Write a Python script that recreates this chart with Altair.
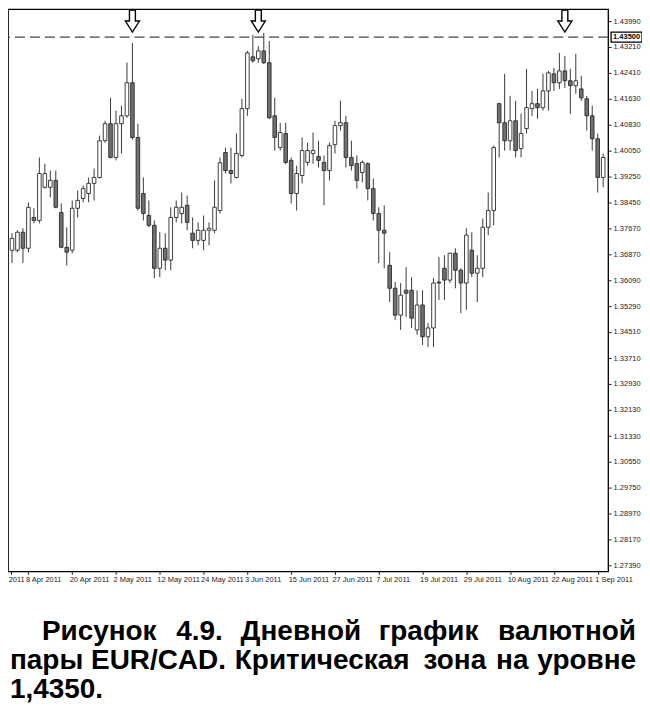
import altair as alt
import pandas as pd

# ---------------- data ----------------
opens = [1.3700, 1.3700, 1.3755, 1.3706, 1.3800, 1.3791, 1.3892, 1.3892, 1.3913, 1.3815,
         1.3709, 1.3700, 1.3828, 1.3858, 1.3873, 1.3904, 1.3922, 1.4034, 1.4086, 1.3983,
         1.4086, 1.4110, 1.4211, 1.4044, 1.3873, 1.3806, 1.3776, 1.3645, 1.3706, 1.3670,
         1.3800, 1.3812, 1.3837, 1.3752, 1.3730, 1.3730, 1.3761, 1.3761, 1.3821, 1.3998,
         1.3943, 1.3922, 1.3989, 1.4132, 1.4290, 1.4284, 1.4308, 1.4272, 1.4110, 1.4013,
         1.4056, 1.3974, 1.3873, 1.3928, 1.3968, 1.3995, 1.3986, 1.3968, 1.3943, 1.4022,
         1.4080, 1.4089, 1.3983, 1.3964, 1.3937, 1.3964, 1.3888, 1.3812, 1.3761, 1.3654,
         1.3584, 1.3502, 1.3578, 1.3578, 1.3457, 1.3533, 1.3436, 1.3463, 1.3603, 1.3645,
         1.3609, 1.3691, 1.3639, 1.3600, 1.3700, 1.3630, 1.3645, 1.3770, 1.3821, 1.4147,
         1.4089, 1.4034, 1.4095, 1.4010, 1.4071, 1.4132, 1.4147, 1.4135, 1.4186, 1.4238,
         1.4211, 1.4247, 1.4217, 1.4202, 1.4192, 1.4162, 1.4110, 1.4040, 1.3922]
highs = [1.3752, 1.3761, 1.3767, 1.3846, 1.3828, 1.3983, 1.3964, 1.3943, 1.3943, 1.3843,
         1.3770, 1.3852, 1.3882, 1.3898, 1.3922, 1.3949, 1.4050, 1.4095, 1.4165, 1.4126,
         1.4141, 1.4272, 1.4332, 1.4086, 1.3922, 1.3852, 1.3791, 1.3755, 1.3752, 1.3831,
         1.3852, 1.3876, 1.3867, 1.3800, 1.3785, 1.3806, 1.3785, 1.3913, 1.3983, 1.4013,
         1.4013, 1.4056, 1.4162, 1.4308, 1.4357, 1.4323, 1.4363, 1.4338, 1.4165, 1.4089,
         1.4089, 1.3983, 1.3958, 1.4044, 1.4028, 1.4059, 1.4034, 1.3989, 1.4028, 1.4095,
         1.4156, 1.4110, 1.4034, 1.3989, 1.3974, 1.3968, 1.3919, 1.3831, 1.3837, 1.3694,
         1.3603, 1.3600, 1.3648, 1.3618, 1.3578, 1.3578, 1.3478, 1.3615, 1.3679, 1.3685,
         1.3691, 1.3706, 1.3645, 1.3767, 1.3755, 1.3685, 1.3797, 1.3876, 1.4019, 1.4150,
         1.4238, 1.4171, 1.4156, 1.4117, 1.4253, 1.4186, 1.4192, 1.4238, 1.4247, 1.4256,
         1.4302, 1.4293, 1.4253, 1.4299, 1.4232, 1.4171, 1.4141, 1.4056, 1.3995]
lows = [1.3661, 1.3694, 1.3661, 1.3694, 1.3782, 1.3782, 1.3888, 1.3861, 1.3828, 1.3706,
        1.3654, 1.3691, 1.3800, 1.3846, 1.3846, 1.3852, 1.3919, 1.4028, 1.3980, 1.3974,
        1.3995, 1.4104, 1.4037, 1.3821, 1.3791, 1.3770, 1.3615, 1.3618, 1.3639, 1.3639,
        1.3785, 1.3782, 1.3761, 1.3706, 1.3715, 1.3700, 1.3715, 1.3752, 1.3812, 1.3934,
        1.3904, 1.3919, 1.3983, 1.4110, 1.4272, 1.4272, 1.4268, 1.4101, 1.4004, 1.4004,
        1.3962, 1.3843, 1.3821, 1.3904, 1.3958, 1.3964, 1.3952, 1.3837, 1.3913, 1.3995,
        1.4065, 1.3952, 1.3943, 1.3888, 1.3907, 1.3852, 1.3791, 1.3661, 1.3645, 1.3542,
        1.3487, 1.3457, 1.3496, 1.3463, 1.3442, 1.3411, 1.3405, 1.3405, 1.3548, 1.3548,
        1.3600, 1.3584, 1.3508, 1.3518, 1.3618, 1.3542, 1.3618, 1.3746, 1.3776, 1.3983,
        1.4004, 1.4004, 1.3983, 1.3983, 1.4056, 1.4110, 1.4101, 1.4126, 1.4126, 1.4186,
        1.4192, 1.4195, 1.4116, 1.4177, 1.4156, 1.4065, 1.4004, 1.3876, 1.3892]
closes = [1.3736, 1.3755, 1.3706, 1.3831, 1.3791, 1.3934, 1.3934, 1.3913, 1.3831, 1.3709,
          1.3694, 1.3828, 1.3852, 1.3888, 1.3904, 1.3922, 1.4034, 1.4086, 1.3983, 1.4086,
          1.4110, 1.4211, 1.4044, 1.3828, 1.3812, 1.3776, 1.3645, 1.3706, 1.3670, 1.3800,
          1.3831, 1.3831, 1.3785, 1.3730, 1.3761, 1.3761, 1.3767, 1.3831, 1.3967, 1.3943,
          1.3934, 1.3995, 1.4132, 1.4302, 1.4278, 1.4308, 1.4272, 1.4104, 1.4044, 1.4059,
          1.3968, 1.3873, 1.3934, 1.4004, 1.4004, 1.4004, 1.3974, 1.3943, 1.4019, 1.4080,
          1.4089, 1.3983, 1.3958, 1.3913, 1.3968, 1.3888, 1.3812, 1.3761, 1.3752, 1.3584,
          1.3502, 1.3563, 1.3569, 1.3493, 1.3533, 1.3436, 1.3463, 1.3600, 1.3600, 1.3609,
          1.3691, 1.3639, 1.3600, 1.3746, 1.3630, 1.3645, 1.3770, 1.3821, 1.4013, 1.4089,
          1.4034, 1.4095, 1.4004, 1.4056, 1.4135, 1.4147, 1.4135, 1.4186, 1.4241, 1.4211,
          1.4247, 1.4217, 1.4202, 1.4217, 1.4165, 1.4110, 1.4040, 1.3922, 1.3983]

x_tick_idx = [-0.15, 3, 11, 19, 27, 35, 43, 51, 59, 67, 75, 83, 91, 99, 107]
x_tick_labels = ["2011", "8 Apr 2011", "20 Apr 2011", "2 May 2011", "12 May 2011",
                 "24 May 2011", "3 Jun 2011", "15 Jun 2011", "27 Jun 2011", "7 Jul 2011",
                 "19 Jul 2011", "29 Jul 2011", "10 Aug 2011", "22 Aug 2011", "1 Sep 2011"]
y_tick_values = [1.43990, 1.43210, 1.42410, 1.41630, 1.40830, 1.40050, 1.39250, 1.38450,
                 1.37670, 1.36870, 1.36090, 1.35290, 1.34510, 1.33710, 1.32930, 1.32130,
                 1.31330, 1.30550, 1.29750, 1.28970, 1.28170, 1.27390]

critical_level = [1.4350]
arrow_idx = [22, 45, 101]
arrow_price = [1.4399, 1.4399, 1.4399]

caption_line1 = ["Рисунок", "4.9.", "Дневной", "график", "валютной"]
caption_line2 = ["пары", "EUR/CAD.", "Критическая", "зона", "на", "уровне"]
caption_line3 = ["1,4350."]

# ---------------- chart ----------------
W, H = 602, 564
n = len(opens)
df = pd.DataFrame({"idx": list(range(n)), "open": opens, "high": highs,
                   "low": lows, "close": closes})

xscale = alt.Scale(domain=[-0.73, 108.9], nice=False, zero=False, padding=0)
yscale = alt.Scale(domain=[1.27207, 1.44355], nice=False, zero=False, padding=0)

labels_js = "[" + ",".join("'" + s + "'" for s in x_tick_labels) + "]"
vals_js = "[" + ",".join(str(v) for v in x_tick_idx) + "]"
xaxis = alt.Axis(values=x_tick_idx, labelExpr=f"{labels_js}[indexof({vals_js}, datum.value)]",
                 labelAlign="left", labelOffset=-3, labelFontSize=7.5, labelFont="Liberation Sans",
                 labelColor="#222", tickSize=3, tickColor="#222", labelPadding=1,
                 labelOverlap=False, domain=False, grid=False, title=None, labelFlush=False)
yaxis = alt.Axis(values=y_tick_values, format=".5f", orient="right", labelFontSize=7.5,
                 labelFont="Liberation Sans", labelColor="#222", tickSize=3, tickColor="#222",
                 labelPadding=2, labelOverlap=False, domain=False, grid=False, title=None,
                 labelFlush=False)


def X(field):
    return alt.X(field, type="quantitative", scale=xscale, axis=xaxis)


def Y(field):
    return alt.Y(field, type="quantitative", scale=yscale, axis=yaxis)


base = alt.Chart(df)
wicks = base.mark_rule(color="#3a3a3a", strokeWidth=1).encode(
    x=X("idx"), y=Y("low"), y2="high")
bodies = base.mark_bar(size=3.6, stroke="#2a2a2a", strokeWidth=0.9).encode(
    x=X("idx"), y=Y("open"), y2="close",
    fill=alt.condition("datum.close >= datum.open", alt.value("white"), alt.value("#707070")))

lvl = alt.Chart(pd.DataFrame({"level": critical_level}))
dash = lvl.mark_rule(color="#444", strokeDash=[10, 5], strokeWidth=1.4).encode(y=Y("level"))
box = lvl.mark_rect(fill="white", stroke="black", strokeWidth=1.3, yOffset=-5, y2Offset=5).encode(
    x=alt.value(W + 3), x2=alt.value(W + 34), y=Y("level"), y2="level")
boxtext = lvl.mark_text(align="left", baseline="middle", fontSize=7.5, fontWeight="bold",
                        font="Liberation Sans", color="black").encode(
    x=alt.value(W + 5), y=Y("level"), text=alt.value("1.43500"))

arrow_path = "M -0.27 -1 L 0.27 -1 L 0.27 0 L 0.64 0 L 0 1 L -0.64 0 L -0.27 0 Z"
arrows = alt.Chart(pd.DataFrame({"idx": arrow_idx, "p": arrow_price})).mark_point(
    shape=arrow_path, size=484, filled=True, fill="white", stroke="black",
    strokeWidth=1.4, opacity=1).encode(x=X("idx"), y=Y("p"))

# caption (justified)
FS = 28
CW = {'Р': 667, 'и': 611, 'с': 556, 'у': 556, 'н': 611, 'о': 611, 'к': 556, ' ': 278,
      '4': 556, '.': 278, '9': 556, 'Д': 722, 'е': 556, 'в': 583, 'й': 611, 'г': 410,
      'р': 611, 'а': 556, 'ф': 889, 'л': 611, 'ю': 861, 'т': 500, 'п': 611, 'ы': 806,
      'E': 667, 'U': 722, 'R': 722, '/': 278, 'C': 722, 'A': 722, 'D': 722, 'К': 722,
      'ч': 583, 'я': 583, 'з': 500, '1': 556, ',': 278, '3': 556, '5': 556, '0': 556}


def tw(s):
    return sum(CW.get(ch, 556) for ch in s) * FS / 1000.0


one = pd.DataFrame({"a": [0]})
caption_layers = []
for words, x0, x1, yb in [(caption_line1, 34, 630, 633),
                          (caption_line2, 2, 630, 662),
                          (caption_line3, 2, 630, 691)]:
    if len(words) == 1:
        placements = [(words[0], x0, "left")]
    else:
        widths = [tw(w) for w in words]
        gap = (x1 - x0 - sum(widths)) / (len(words) - 1)
        placements = []
        cx = x0
        for i, w in enumerate(words):
            if i == len(words) - 1:
                placements.append((w, x1, "right"))
            else:
                placements.append((w, cx, "left"))
            cx += widths[i] + gap
    for w, px, al in placements:
        caption_layers.append(
            alt.Chart(one).mark_text(align=al, baseline="alphabetic", fontSize=FS,
                                     fontWeight="bold", font="Liberation Sans",
                                     color="black").encode(
                x=alt.value(px), y=alt.value(yb), text=alt.value(w)))

chart = alt.layer(wicks, bodies, dash, box, boxtext, arrows, *caption_layers).properties(
    width=W, height=H, background="white",
    autosize=alt.AutoSizeParams(type="none"),
    padding={"left": 0, "top": 0, "right": 34, "bottom": 136},
).configure_view(stroke="black", strokeWidth=1.3)

chart.save("out.html", embed_options={"renderer": "svg", "actions": False})
